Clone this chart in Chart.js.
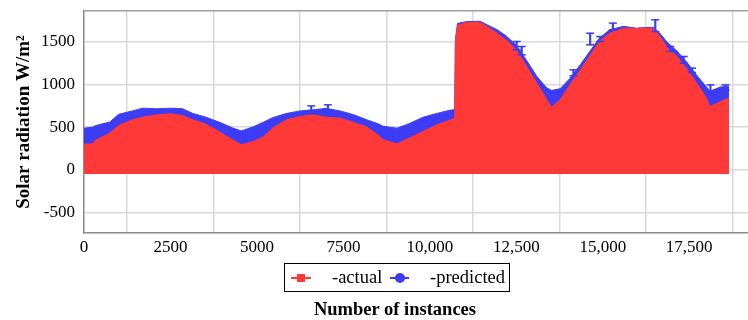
<!DOCTYPE html>
<html lang="en">
<head>
<meta charset="utf-8">
<title>Solar radiation: actual vs predicted</title>
<style>
  html,body{margin:0;padding:0;background:#fff;overflow:hidden;}
  .wrap{position:relative;width:748px;height:320px;}
  #solarChart{display:block;}
  .legend{position:absolute;left:284px;top:263px;width:224px;height:27px;border:1.5px solid #000;
          font:18.5px "Liberation Serif",serif;color:#000;}
  .legend .ln{position:absolute;top:13px;height:2px;}
  .legend .mk{position:absolute;}
  .legend .tx{position:absolute;top:3px;line-height:21px;white-space:nowrap;}
  .xtitle{position:absolute;left:295px;width:200px;top:299px;text-align:center;
          font:bold 18.5px "Liberation Serif",serif;color:#000;white-space:nowrap;}
</style>
<script src="https://cdn.jsdelivr.net/npm/chart.js@4.4.1/dist/chart.umd.min.js"></script>
</head>
<body>
<div class="wrap">
  <canvas id="solarChart" width="748" height="320"></canvas>
  <div class="legend">
    <span class="ln" style="left:6px;width:20px;background:#ff3838"></span>
    <span class="mk" style="left:12px;top:10px;width:8px;height:8px;background:#ff3838"></span>
    <span class="tx" style="left:47px">-actual</span>
    <span class="ln" style="left:105px;width:19px;background:#3c3cf5"></span>
    <span class="mk" style="left:110px;top:9px;width:10px;height:10px;border-radius:50%;background:#3c3cf5"></span>
    <span class="tx" style="left:145px">-predicted</span>
  </div>
  <div class="xtitle">Number of instances</div>
</div>
<script>
// values
const instances = [0, 250, 350, 750, 1000, 1400, 1700, 2100, 2500, 2850, 3150, 3500, 3900, 4300, 4550,
  4900, 5200, 5450, 5850, 6250, 6600, 7000, 7400, 7800, 8150, 8500, 8650, 9050, 9400, 9800, 10200,
  10550, 10720, 10740, 10800, 11050, 11450, 11650, 11950, 12200, 12500, 12800, 13100, 13380, 13520,
  13770, 14050, 14350, 14650, 14900, 15200, 15600, 15960, 15980, 16000, 16450, 16650, 16850, 17150,
  17450, 17750, 18000, 18100, 18400, 18650];
const actual = [300, 305, 350, 430, 520, 585, 617, 644, 656, 636, 585, 539, 449, 351, 293,
  332, 390, 488, 585, 624, 644, 617, 605, 554, 507, 410, 351, 304, 371, 449, 527,
  577, 605, 1500, 1690, 1725, 1725, 1678, 1600, 1522, 1405, 1210, 1015, 820, 734,
  820, 995, 1171, 1347, 1503, 1600, 1659, 1659, 1540, 1659, 1659, 1561, 1444, 1327,
  1171, 995, 840, 741, 800, 840];
const predicted = [488, 500, 520, 560, 650, 690, 722, 715, 722, 715, 660, 620, 560, 490, 455,
  505, 560, 610, 660, 690, 700, 720, 690, 645, 590, 540, 510, 488, 540, 615, 660,
  695, 705, 1530, 1715, 1735, 1740, 1700, 1640, 1570, 1460, 1280, 1090, 960, 930,
  950, 1070, 1230, 1400, 1540, 1640, 1680, 1660, 1540, 1660, 1670, 1600, 1500, 1390,
  1250, 1090, 970, 920, 970, 980];
// error bars on some predicted points
const errX  = [6571, 7053, 12511, 12656, 14153, 14636, 14926, 15292, 16519, 16954, 17340, 17582, 18113, 18548];
const errLo = [694, 703, 1405, 1347, 1101, 1464, 1503, 1640, 1620, 1386, 1249, 1140, 905, 936];
const errHi = [749, 761, 1503, 1444, 1171, 1600, 1561, 1718, 1757, 1444, 1327, 1191, 995, 995];
const xTickValues = [0, 2500, 5000, 7500, 10000, 12500, 15000, 17500];
const xTickLabels = ['0', '2500', '5000', '7500', '10,000', '12,500', '15,000', '17,500'];
const yTickValues = [-500, 0, 500, 1000, 1500];

const Y_MIN = -740, Y_MAX = 1860, X_MAX = 19200, BASE = -50;
const RED = '#ff3838', BLUE = '#3c3cf5';
const serif = '"Liberation Serif", "Times New Roman", serif';

const pts = ys => instances.map((x, i) => ({x: x, y: ys[i]}));
const capPts = errX.flatMap((x, i) => [{x: x, y: errLo[i]}, {x: x, y: errHi[i]}]);

new Chart(document.getElementById('solarChart'), {
  type: 'line',
  data: {
    datasets: [
      {
        type: 'bar', data: errX.map((x, i) => ({x: x, y: [errLo[i], errHi[i]]})),
        backgroundColor: BLUE, barThickness: 1.5, grouped: false, order: 0
      },
      {
        data: capPts, showLine: false, pointStyle: 'line', pointRadius: 4,
        pointBorderColor: BLUE, pointBorderWidth: 1.5, order: 0
      },
      {
        data: pts(actual), borderColor: RED, borderWidth: 1, backgroundColor: RED,
        pointRadius: 0, fill: {value: BASE}, order: 1
      },
      {
        data: pts(predicted), borderColor: BLUE, borderWidth: 1, backgroundColor: BLUE,
        pointRadius: 0, fill: {value: BASE}, order: 2
      }
    ]
  },
  options: {
    responsive: false,
    animation: false,
    layout: {autoPadding: false, padding: {top: 11, right: 0, left: 0, bottom: 0}},
    plugins: {legend: {display: false}, tooltip: {enabled: false}},
    scales: {
      x: {
        type: 'linear', min: 0, max: X_MAX, offset: false,
        afterBuildTicks: s => { s.ticks = xTickValues.map(v => ({value: v})); },
        afterFit: s => { s.height = 87; s.paddingLeft = 0; s.paddingRight = 0; },
        ticks: {
          font: {family: serif, size: 17}, color: '#000', padding: 4, maxRotation: 0,
          callback: v => xTickLabels[xTickValues.indexOf(v)]
        },
        grid: {color: '#d9d9d9', lineWidth: 1.5, drawTicks: false},
        border: {color: '#8a8a8a', width: 1.5}
      },
      y: {
        min: Y_MIN, max: Y_MAX,
        afterBuildTicks: s => { s.ticks = yTickValues.concat([Y_MAX]).map(v => ({value: v})); },
        afterFit: s => { s.width = 84; s.paddingTop = 0; s.paddingBottom = 0; },
        ticks: {
          font: {family: serif, size: 17}, color: '#000', padding: 9,
          callback: v => (yTickValues.includes(v) ? String(v) : '')
        },
        grid: {
          color: c => (c.tick && c.tick.value === Y_MAX ? '#a0a0a0' : '#d9d9d9'),
          lineWidth: 1.5, drawTicks: false
        },
        border: {color: '#8a8a8a', width: 1.5},
        title: {
          display: true, text: 'Solar radiation W/m²', color: '#000',
          font: {family: serif, size: 19, weight: 'bold'}, padding: {top: 13, bottom: 0}
        }
      }
    }
  }
});
</script>
</body>
</html>
